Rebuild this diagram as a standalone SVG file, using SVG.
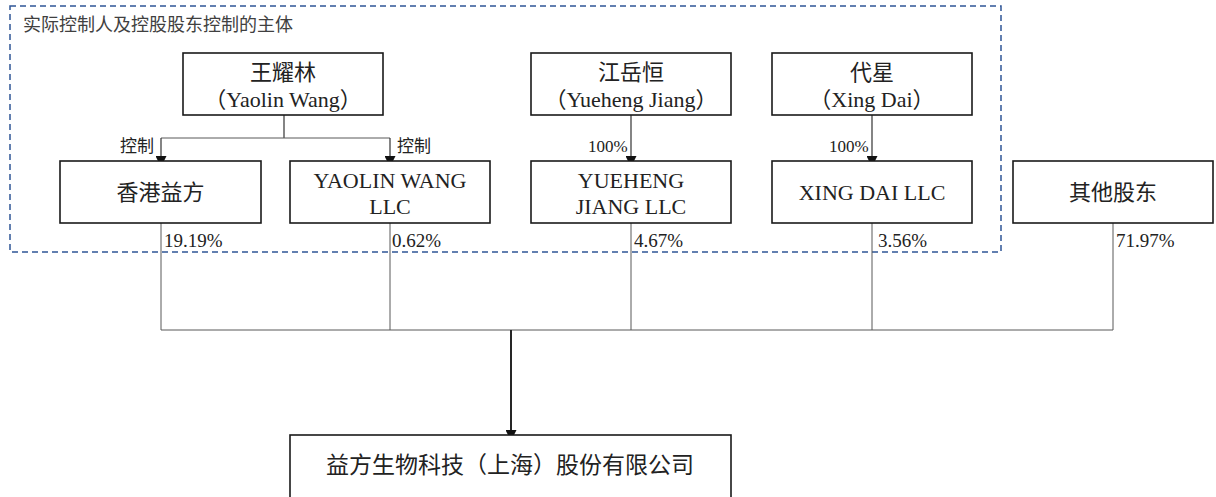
<svg xmlns="http://www.w3.org/2000/svg" width="1216" height="497" viewBox="0 0 1216 497">
  <style>
    .box { fill: #ffffff; stroke: #1a1a1a; stroke-width: 1.6; }
    .t { font-family: "Liberation Serif", "Noto Sans CJK SC", serif; font-size: 22px; fill: #222222; text-anchor: middle; }
    .big { font-size: 23px; }
    .lbl { font-family: "Liberation Serif", "Noto Sans CJK SC", serif; font-size: 17px; fill: #222222; }
    .pct { font-family: "Liberation Serif", "Noto Sans CJK SC", serif; font-size: 19px; fill: #222222; }
    .title { font-family: "Noto Sans CJK SC", "Liberation Sans", sans-serif; font-size: 18px; fill: #404040; }
    .ctl { fill: none; stroke: #333333; stroke-width: 1.2; }
    .bus { fill: none; stroke: #595959; stroke-width: 1; }
    .main { fill: none; stroke: #262626; stroke-width: 2; }
  </style>
  <defs>
    <marker id="arr" markerUnits="userSpaceOnUse" markerWidth="10" markerHeight="11" viewBox="0 0 10 11" refX="5" refY="11" orient="auto-start-reverse">
      <path d="M0 0 L10 0 L5 11 Z" fill="#111111"/>
    </marker>
    <marker id="arrD" markerUnits="userSpaceOnUse" markerWidth="10" markerHeight="11" viewBox="0 0 10 11" refX="5" refY="5.5" orient="auto">
      <path d="M0 0 L11 5.5 L0 11 Z" fill="#111111"/>
    </marker>
  </defs>

  <g id="group-boundary">
    <rect x="10" y="6" width="991" height="246" fill="none" stroke="#2F5597" stroke-width="1.5" stroke-dasharray="6 4"/>
    <text class="title" x="23" y="31">实际控制人及控股股东控制的主体</text>
  </g>

  <g id="connectors">
    <path class="ctl" d="M284 115 V138"/>
    <path class="bus" d="M161 138 H390"/>
    <path class="ctl" d="M161 138 V161" marker-end="url(#arrD)"/>
    <path class="ctl" d="M390 138 V161" marker-end="url(#arrD)"/>
    <path class="ctl" d="M631 115 V161" marker-end="url(#arrD)"/>
    <path class="ctl" d="M872 115 V161" marker-end="url(#arrD)"/>
    <path class="bus" d="M161 223 V330 M390 223 V330 M631 223 V330 M872 223 V330 M1113 223 V330 M161 330 H1113"/>
    <path class="main" d="M511 330 V435" marker-end="url(#arrD)"/>
    <text class="lbl" x="120" y="152">控制</text>
    <text class="lbl" x="397" y="152">控制</text>
    <text class="lbl" x="588" y="152">100%</text>
    <text class="lbl" x="829" y="152">100%</text>
    <text class="pct" x="164" y="247">19.19%</text>
    <text class="pct" x="392" y="247">0.62%</text>
    <text class="pct" x="634" y="247">4.67%</text>
    <text class="pct" x="878" y="247">3.56%</text>
    <text class="pct" x="1116" y="247">71.97%</text>
  </g>

  <g id="node-wangyaolin">
    <rect class="box" x="183" y="53" width="200" height="62"/>
    <text class="t" x="283" y="80">王耀林</text>
    <text class="t" x="283" y="107">（Yaolin Wang）</text>
  </g>
  <g id="node-jiangyueheng">
    <rect class="box" x="531" y="53" width="200" height="62"/>
    <text class="t" x="631" y="80">江岳恒</text>
    <text class="t" x="631" y="107">（Yueheng Jiang）</text>
  </g>
  <g id="node-daixing">
    <rect class="box" x="772" y="53" width="200" height="62"/>
    <text class="t" x="872" y="80">代星</text>
    <text class="t" x="872" y="107">（Xing Dai）</text>
  </g>
  <g id="node-hkyifang">
    <rect class="box" x="60" y="161" width="201" height="62"/>
    <text class="t" x="160.5" y="200">香港益方</text>
  </g>
  <g id="node-yaolinwangllc">
    <rect class="box" x="290" y="161" width="200" height="62"/>
    <text class="t" x="390" y="188">YAOLIN WANG</text>
    <text class="t" x="390" y="214">LLC</text>
  </g>
  <g id="node-yuehengjiangllc">
    <rect class="box" x="531" y="161" width="200" height="62"/>
    <text class="t" x="631" y="188">YUEHENG</text>
    <text class="t" x="631" y="214">JIANG LLC</text>
  </g>
  <g id="node-xingdaillc">
    <rect class="box" x="772" y="161" width="200" height="62"/>
    <text class="t" x="872" y="200">XING DAI LLC</text>
  </g>
  <g id="node-others">
    <rect class="box" x="1013" y="161" width="200" height="62"/>
    <text class="t" x="1113" y="200">其他股东</text>
  </g>
  <g id="node-company">
    <rect class="box" x="290" y="435" width="441" height="70"/>
    <text class="t big" x="510" y="473">益方生物科技（上海）股份有限公司</text>
  </g>
</svg>
